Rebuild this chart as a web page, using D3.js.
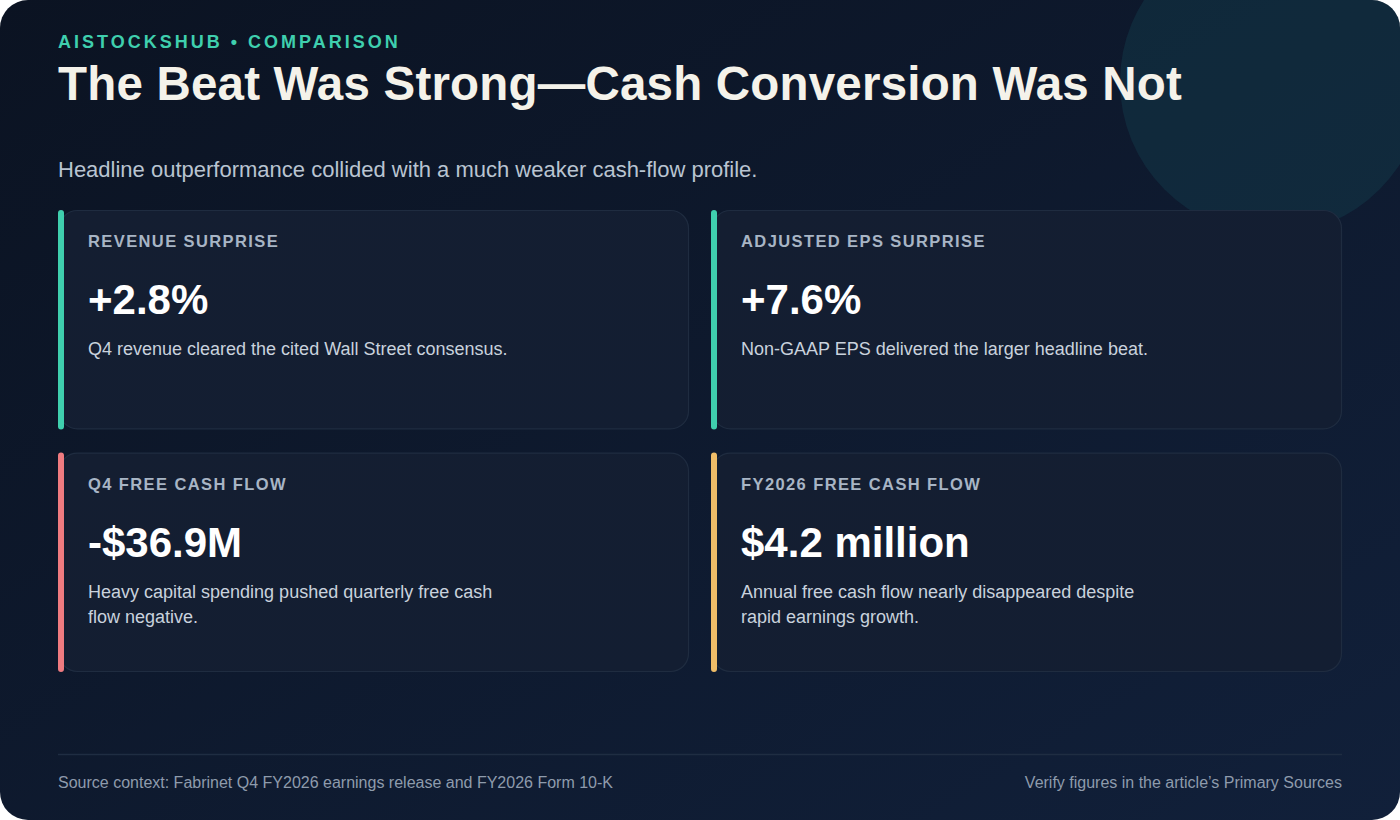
<!DOCTYPE html>
<html><head><meta charset="utf-8">
<script src="https://cdn.jsdelivr.net/npm/d3@7"></script>
<style>
html,body{margin:0;padding:0;background:#ffffff;}
svg{display:block;font-family:"Liberation Sans",Arial,Helvetica,sans-serif;}
</style></head>
<body>
<svg id="chart" width="1400" height="820"></svg>
<script>
const kicker = "AISTOCKSHUB • COMPARISON";
const title = "The Beat Was Strong—Cash Conversion Was Not";
const subtitle = "Headline outperformance collided with a much weaker cash-flow profile.";
const cardLabels = ["REVENUE SURPRISE", "ADJUSTED EPS SURPRISE", "Q4 FREE CASH FLOW", "FY2026 FREE CASH FLOW"];
const cardValues = ["+2.8%", "+7.6%", "-$36.9M", "$4.2 million"];
const cardNotes = [
  "Q4 revenue cleared the cited Wall Street consensus.",
  "Non-GAAP EPS delivered the larger headline beat.",
  "Heavy capital spending pushed quarterly free cash flow negative.",
  "Annual free cash flow nearly disappeared despite rapid earnings growth."
];
const cardTones = ["positive", "positive", "negative", "caution"];
const footLeft = "Source context: Fabrinet Q4 FY2026 earnings release and FY2026 Form 10-K";
const footRight = "Verify figures in the article\u2019s Primary Sources";

const W = 1400, H = 820;
const svg = d3.select("#chart");
const defs = svg.append("defs");

const bg = defs.append("linearGradient").attr("id","bg").attr("x1","0").attr("y1","0").attr("x2","1").attr("y2","1");
bg.append("stop").attr("offset","0%").attr("stop-color","#0b1322");
bg.append("stop").attr("offset","100%").attr("stop-color","#11203a");

const cardG = defs.append("linearGradient").attr("id","cardg").attr("x1","0").attr("y1","0").attr("x2","1").attr("y2","1");
cardG.append("stop").attr("offset","0%").attr("stop-color","#141e31");
cardG.append("stop").attr("offset","100%").attr("stop-color","#131e32");

defs.append("clipPath").attr("id","frame").append("rect")
  .attr("width",W).attr("height",H).attr("rx",28).attr("ry",28);

const root = svg.append("g").attr("clip-path","url(#frame)");
root.append("rect").attr("width",W).attr("height",H).attr("fill","url(#bg)");
root.append("circle").attr("cx",1272).attr("cy",82).attr("r",152)
  .attr("fill","#15404f").attr("fill-opacity",0.4);

const toneColor = d3.scaleOrdinal().domain(["positive","negative","caution"])
  .range(["#3fcfae","#ef7b80","#efbd68"]);

// header
root.append("text").attr("x",58).attr("y",48).text(kicker)
  .attr("fill","#3fcfae").attr("font-size",18).attr("font-weight",700).attr("letter-spacing",3);
root.append("text").attr("x",58).attr("y",100).text(title)
  .attr("fill","#f4f2ea").attr("font-size",47.5).attr("font-weight",700).attr("letter-spacing",0.2);
root.append("text").attr("x",58).attr("y",177).text(subtitle)
  .attr("fill","#b9c4d1").attr("font-size",22);

// card grid
const col = d3.scaleBand().domain([0,1]).range([58,1342]).paddingInner(22/653);
const row = d3.scaleBand().domain([0,1]).range([210,672]).paddingInner(22/231);

const cards = root.selectAll("g.card").data(cardLabels.map((l,i)=>({
  label:l, value:cardValues[i], note:cardNotes[i], tone:cardTones[i], c:i%2, r:Math.floor(i/2)
}))).join("g").attr("class","card")
  .attr("transform",d=>`translate(${col(d.c)},${row(d.r)})`);

const cw = col.bandwidth(), ch = row.bandwidth();
cards.append("rect").attr("x",1.5).attr("y",0.5).attr("width",cw-2).attr("height",ch-1)
  .attr("rx",18).attr("fill","url(#cardg)").attr("stroke","#1f2c40").attr("stroke-width",1.2);
cards.append("rect").attr("x",0).attr("y",0).attr("width",6).attr("height",ch).attr("rx",3)
  .attr("fill",d=>toneColor(d.tone));
cards.append("text").attr("x",30).attr("y",37).text(d=>d.label)
  .attr("fill","#a8b5c5").attr("font-size",16.5).attr("font-weight",700).attr("letter-spacing",1.4);
cards.append("text").attr("x",30).attr("y",104).text(d=>d.value)
  .attr("fill","#ffffff").attr("font-size",42).attr("font-weight",700);
cards.append("text").attr("x",30).attr("y",145)
  .attr("fill","#c9d2dd").attr("font-size",18)
  .each(function(d){
    const t = d3.select(this);
    const words = d.note.split(" ");
    let line = [];
    let ts = t.append("tspan").attr("x",30).attr("dy",0);
    words.forEach(w=>{
      line.push(w);
      ts.text(line.join(" "));
      if (ts.node().getComputedTextLength() > 426 && line.length>1){
        line.pop(); ts.text(line.join(" "));
        line=[w];
        ts = t.append("tspan").attr("x",30).attr("dy",25).text(w);
      }
    });
  });

// footer
root.append("line").attr("x1",58).attr("x2",1342).attr("y1",754.5).attr("y2",754.5)
  .attr("stroke","#1f2d42").attr("stroke-width",1.5);
root.append("text").attr("x",58).attr("y",788).text(footLeft)
  .attr("fill","#8e9bac").attr("font-size",16);
root.append("text").attr("x",1342).attr("y",788).attr("text-anchor","end").text(footRight)
  .attr("fill","#8e9bac").attr("font-size",16);
</script>
</body></html>
